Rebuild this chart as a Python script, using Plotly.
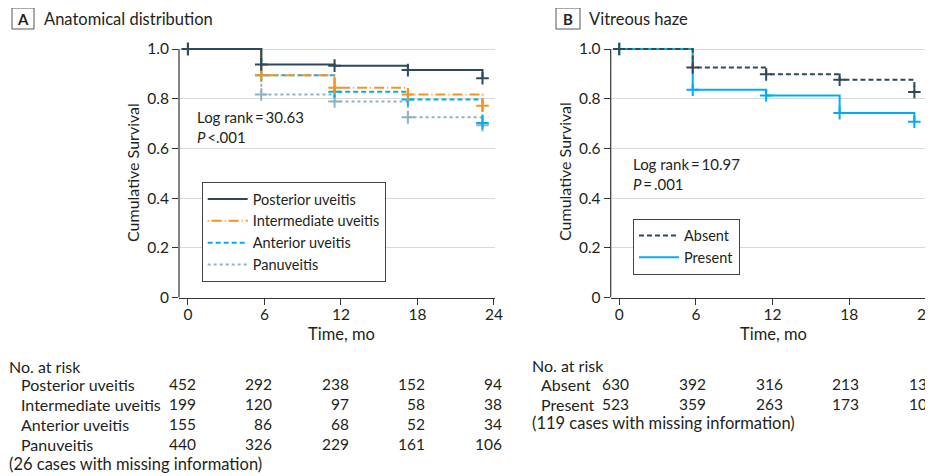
import plotly.graph_objects as go

# page body has an 8px margin, so the figure is sized to fit the window
OFF = 8
W, H = 933 - OFF, 476 - OFF
FONT = "Lato, sans-serif"
TEXT = "#231f20"
DARK = "#2e4a5a"
ORANGE = "#f7941d"
CYAN = "#00aeef"
PANU = "#8fb1c2"
GRID = "#d9d9d9"

# ---------------- data ----------------
times = [0, 5.75, 11.5, 17.25, 23.1]
posterior = [1.0, 0.938, 0.933, 0.915, 0.882]
intermediate = [1.0, 0.894, 0.844, 0.817, 0.772]
anterior = [1.0, 0.894, 0.828, 0.797, 0.702]
panuveitis = [1.0, 0.817, 0.789, 0.725, 0.693]
absent = [1.0, 0.926, 0.898, 0.876, 0.827]
present = [1.0, 0.836, 0.813, 0.742, 0.707]

x_ticks = [0, 6, 12, 18, 24]
y_ticks = [0, 0.2, 0.4, 0.6, 0.8, 1.0]
y_ticktext = ["0", "0.2", "0.4", "0.6", "0.8", "1.0"]

risk_a_labels = ["Posterior uveitis", "Intermediate uveitis", "Anterior uveitis", "Panuveitis"]
risk_posterior = [452, 292, 238, 152, 94]
risk_intermediate = [199, 120, 97, 58, 38]
risk_anterior = [155, 86, 68, 52, 34]
risk_panuveitis = [440, 326, 229, 161, 106]
risk_b_labels = ["Absent", "Present"]
risk_absent = [630, 392, 316, 213, 137]
risk_present = [523, 359, 263, 173, 107]


def px(x):
    return (x - OFF) / W


def py(y):
    return 1 - (y - OFF) / H


fig = go.Figure()

series_a = [
    ("Posterior uveitis", posterior, DARK, "solid"),
    ("Intermediate uveitis", intermediate, ORANGE, "1px,3px,10px,3px"),
    ("Anterior uveitis", anterior, CYAN, "5px,3px"),
    ("Panuveitis", panuveitis, PANU, "dot"),
]
series_b = [
    ("Absent", absent, DARK, "5px,3px"),
    ("Present", present, CYAN, "solid"),
]

for name, vals, col, dash in reversed(series_a):
    fig.add_trace(go.Scatter(x=times, y=vals, mode="lines", line_shape="hv",
                             line=dict(color=col, width=2, dash=dash), name=name,
                             legend="legend", xaxis="x", yaxis="y",
                             legendrank=[s[0] for s in series_a].index(name)))
    fig.add_trace(go.Scatter(x=times, y=vals, mode="markers", showlegend=False, cliponaxis=False,
                             marker=dict(symbol="cross-thin", size=9, line=dict(color=col, width=2)),
                             xaxis="x", yaxis="y"))

for name, vals, col, dash in reversed(series_b):
    fig.add_trace(go.Scatter(x=times, y=vals, mode="lines", line_shape="hv",
                             line=dict(color=col, width=2, dash=dash), name=name,
                             legend="legend2", xaxis="x2", yaxis="y2",
                             legendrank=[s[0] for s in series_b].index(name)))
    fig.add_trace(go.Scatter(x=times, y=vals, mode="markers", showlegend=False, cliponaxis=False,
                             marker=dict(symbol="cross-thin", size=9, line=dict(color=col, width=2)),
                             xaxis="x2", yaxis="y2"))

ydom = [py(297.5), py(49) + (0.02 * 248.5) / H]
ax_common = dict(showline=True, linecolor="#333333", linewidth=1.2, ticks="outside", ticklen=6,
                 tickcolor="#333333", tickfont=dict(family=FONT, size=15.5, color=TEXT), zeroline=False,
                 automargin=False)
x_extra = dict(ticklabeloverflow="allow", ticklabelstandoff=-3)

fig.update_layout(
    width=W, height=H, margin=dict(l=0, r=0, t=0, b=0, autoexpand=False),
    paper_bgcolor="white", plot_bgcolor="white",
    font=dict(family=FONT, size=15, color=TEXT),
    xaxis=dict(domain=[px(179), px(494.6)], range=[-0.7, 24.05], tickvals=x_ticks, showgrid=False,
               anchor="y", **ax_common, **x_extra),
    yaxis=dict(domain=ydom, range=[0, 1.02], tickvals=y_ticks, ticktext=y_ticktext, showgrid=True,
               gridcolor=GRID, gridwidth=1, anchor="x", **{**ax_common, "showline": False}),
    xaxis2=dict(domain=[px(610.7), px(926.5)], range=[-0.67, 24.05], tickvals=x_ticks, showgrid=False,
                anchor="y2", **ax_common, **x_extra),
    yaxis2=dict(domain=ydom, range=[0, 1.02], tickvals=y_ticks, ticktext=y_ticktext, showgrid=True,
                gridcolor=GRID, gridwidth=1, anchor="x2", **{**ax_common, "showline": False}),
    legend=dict(x=px(201.7), y=py(182), xanchor="left", yanchor="top", bgcolor="white",
                bordercolor="#444444", borderwidth=1, font=dict(family=FONT, size=14.5, color=TEXT),
                itemwidth=40, tracegroupgap=0),
    legend2=dict(x=px(633), y=py(218.5), xanchor="left", yanchor="top", bgcolor="white",
                 bordercolor="#444444", borderwidth=1, font=dict(family=FONT, size=14.5, color=TEXT),
                 itemwidth=40, tracegroupgap=0),
)

shapes = []
for xr, yr in [("x domain", "y"), ("x2 domain", "y2")]:
    shapes.append(dict(type="line", xref=xr, yref=yr, x0=0, x1=0, y0=0, y1=1,
                       line=dict(color="#333333", width=1.2)))
# panel letter boxes
for x0, x1 in [(12, 34), (556, 580)]:
    shapes.append(dict(type="rect", xref="paper", yref="paper", x0=px(x0), x1=px(x1), y0=py(29), y1=py(8),
                       line=dict(color="#555555", width=1)))
fig.update_layout(shapes=shapes)

ann = []


def text(x, y, s, xanchor="left", size=16, **kw):
    ann.append(dict(x=x, y=y, xref=kw.pop("xref", "paper"), yref="paper", text=s, showarrow=False,
                    xanchor=xanchor, yanchor="middle", font=dict(family=FONT, size=size, color=TEXT),
                    borderpad=0, **kw))


# titles
text(px(23), py(18.5), "<b>A</b>", xanchor="center", size=15)
text(px(43), py(18.5), "Anatomical distribution", size=16.5)
text(px(568), py(18.5), "<b>B</b>", xanchor="center", size=15)
text(px(588), py(18.5), "Vitreous haze", size=16.5)

# axis titles
text(px(132), py(172), "Cumulative Survival", xanchor="center", textangle=-90, size=16)
text(px(564), py(172), "Cumulative Survival", xanchor="center", textangle=-90, size=16)
text(px(341), py(334), "Time, mo", xanchor="center", size=16.5)
text(px(773), py(334), "Time, mo", xanchor="center", size=16.5)

# log-rank
text(px(196), py(127.5), "Log rank\u2009=\u200930.63<br><i>P</i>\u2009&lt;.001", align="left", size=15)
text(px(632), py(174), "Log rank\u2009=\u200910.97<br><i>P</i>\u2009=\u2009.001", align="left", size=15)

# at-risk table A
text(px(8), py(366), "No. at risk")
rows_a = [risk_posterior, risk_intermediate, risk_anterior, risk_panuveitis]
ys_a = [384, 404, 424, 444]
for lab, row, yy in zip(risk_a_labels, rows_a, ys_a):
    text(px(20), py(yy), lab)
    for t, v in zip(x_ticks, row):
        text(t, py(yy), str(v), xanchor="right", xref="x", xshift=9, size=15.5)
text(px(8), py(464), "(26 cases with missing information)", size=16.5)

# at-risk table B
text(px(531), py(365), "No. at risk")
rows_b = [risk_absent, risk_present]
ys_b = [384, 404]
for lab, row, yy in zip(risk_b_labels, rows_b, ys_b):
    text(px(540), py(yy), lab)
    for t, v in zip(x_ticks, row):
        text(t, py(yy), str(v), xanchor="right", xref="x2", xshift=11, size=15.5)
text(px(531), py(423), "(119 cases with missing information)", size=16.5)

fig.update_layout(annotations=ann)
fig.write_html("out.html")
